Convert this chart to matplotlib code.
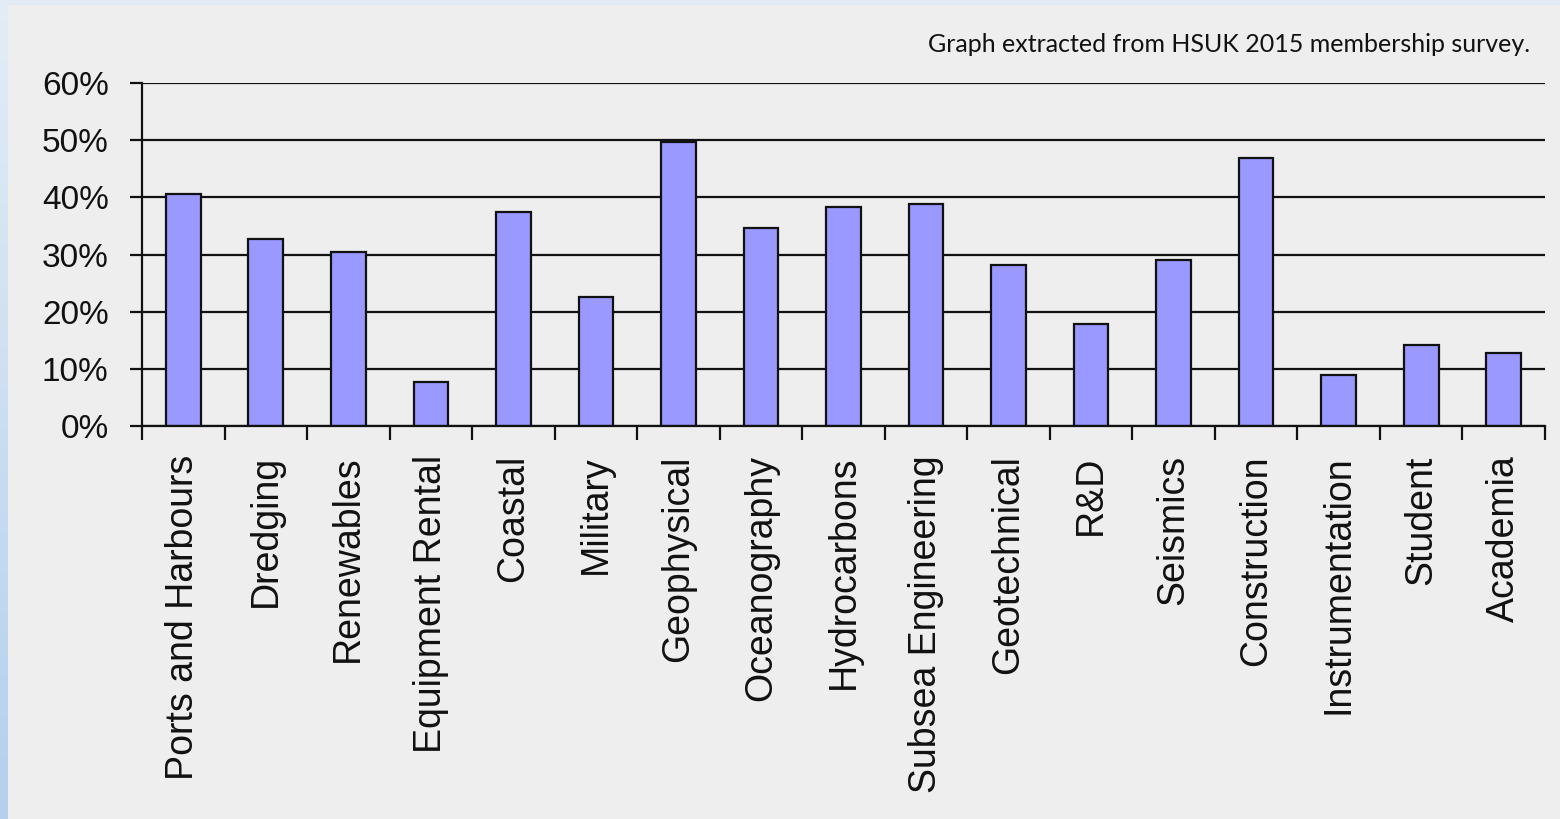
import matplotlib
matplotlib.use("Agg")
import matplotlib.pyplot as plt
from matplotlib.patches import Rectangle
from matplotlib.ticker import FixedLocator, PercentFormatter
import numpy as np

categories = ["Ports and Harbours", "Dredging", "Renewables", "Equipment Rental",
              "Coastal", "Military", "Geophysical", "Oceanography", "Hydrocarbons",
              "Subsea Engineering", "Geotechnical", "R&D", "Seismics", "Construction",
              "Instrumentation", "Student", "Academia"]
values = [40.5, 32.7, 30.5, 7.7, 37.4, 22.5, 49.7, 34.6, 38.3, 38.8, 28.1, 17.8,
          29.0, 46.8, 9.0, 14.1, 12.8]
yticks = [0, 10, 20, 30, 40, 50, 60]
note = "Graph extracted from HSUK 2015 membership survey."

W, H = 1560, 819
fig = plt.figure(figsize=(W / 100, H / 100), dpi=100)
fig.patch.set_facecolor("#eeeeee")

# frame decoration: top band and left gradient strip
fig.patches.append(Rectangle((0, 1 - 5 / H), 1, 5 / H, transform=fig.transFigure,
                             facecolor="#e0ebf6", edgecolor="none", zorder=0))
n = 40
for i in range(n):
    t = i / (n - 1)
    c1 = np.array([0xe2, 0xec, 0xf6]) / 255
    c2 = np.array([0xb4, 0xd0, 0xec]) / 255
    col = c1 * (1 - t) + c2 * t
    fig.patches.append(Rectangle((0, 1 - (i + 1) / n), 8 / W, 1 / n + 0.001,
                                 transform=fig.transFigure, facecolor=col,
                                 edgecolor="none", zorder=0))

ax = fig.add_axes([142 / W, 1 - 426 / H, (1545 - 142) / W, (426 - 83) / H])
ax.set_facecolor("#eeeeee")

x = np.arange(len(categories))
ax.bar(x, values, width=0.42, color="#9999ff", edgecolor="#111111", linewidth=1.6, zorder=3)

ax.set_xlim(-0.5, len(categories) - 0.5)
ax.set_ylim(0, 60)

for s in ["top", "right"]:
    ax.spines[s].set_visible(False)
for s in ["left", "bottom"]:
    ax.spines[s].set_linewidth(1.6)
    ax.spines[s].set_color("#111111")
    ax.spines[s].set_zorder(4)

ax.yaxis.set_major_locator(FixedLocator(yticks))
ax.yaxis.set_major_formatter(PercentFormatter(decimals=0))
ax.yaxis.grid(True, color="#111111", linewidth=1.6, zorder=1)
ax.tick_params(axis="y", direction="out", length=9, width=1.6, color="#111111",
               pad=15, labelsize=24, labelcolor="#111111")
for lbl in ax.get_yticklabels():
    lbl.set_family(["Liberation Sans", "DejaVu Sans"])

ax.set_xticks(x)
ax.set_xticklabels(categories, rotation=90, fontsize=27,
                   family=["Liberation Sans", "DejaVu Sans"], color="#111111")
ax.tick_params(axis="x", which="major", length=0, pad=21)
ax.set_xticks(np.arange(-0.5, len(categories), 1.0), minor=True)
ax.tick_params(axis="x", which="minor", direction="out", length=10, width=1.6,
               color="#111111")

fig.text(1530 / W, 1 - 45 / H, note, ha="right", va="center", fontsize=18,
         family=["Lato", "DejaVu Sans"], color="#111111")

fig.savefig("out.png", dpi=100, facecolor=fig.get_facecolor())
